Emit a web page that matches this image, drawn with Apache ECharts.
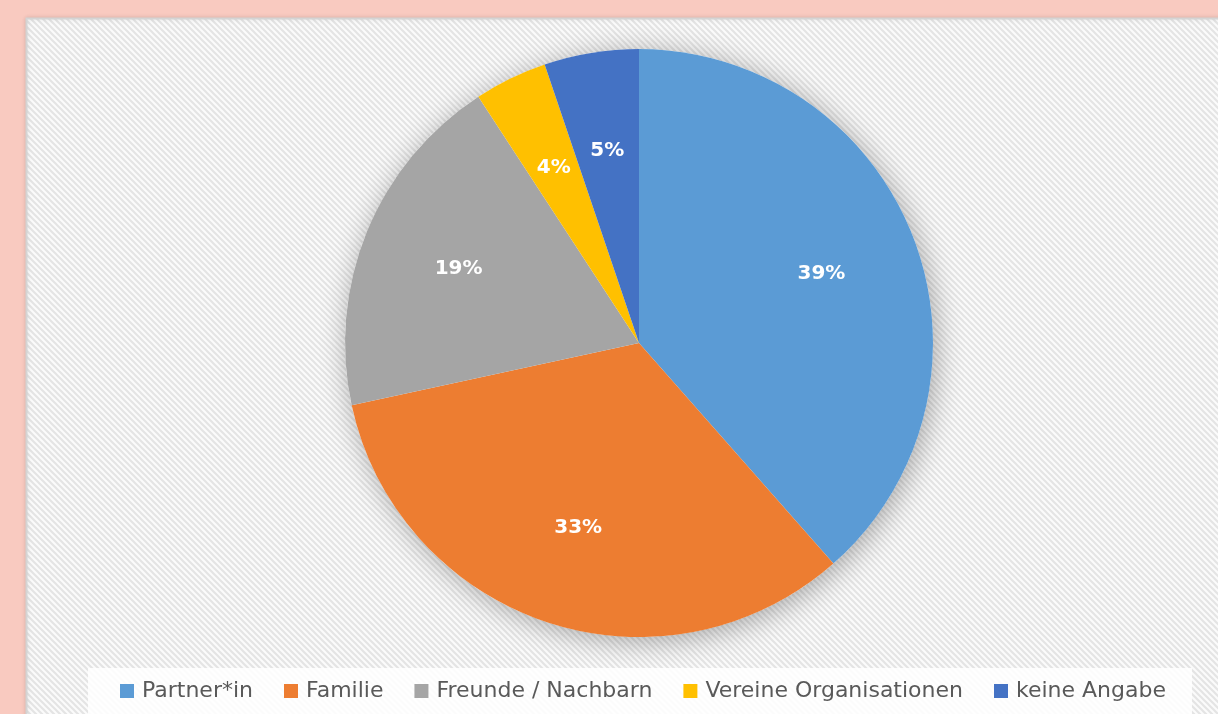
<!DOCTYPE html>
<html>
<head>
<meta charset="utf-8">
<script src="https://cdn.jsdelivr.net/npm/echarts@6/dist/echarts.min.js"></script>
<style>
  html, body { margin: 0; padding: 0; background: #f9cac0; }
  #chart { width: 1218px; height: 714px; }
</style>
</head>
<body>
<div id="chart"></div>
<script>
// Daten
const categories = ['Partner*in', 'Familie', 'Freunde / Nachbarn', 'Vereine Organisationen', 'keine Angabe']
const shares = [38.5, 33.1, 19.2, 4.0, 5.2]
const colors = ['#5b9bd5', '#ed7d31', '#a5a5a5', '#ffc000', '#4472c4']

// diagonal hatch for the chart panel
function makeHatch() {
  const c = document.createElement('canvas')
  c.width = 6
  c.height = 6
  const ctx = c.getContext('2d')
  ctx.fillStyle = '#fbfbfb'
  ctx.fillRect(0, 0, 6, 6)
  ctx.strokeStyle = '#e4e4e4'
  ctx.lineWidth = 2.2
  ctx.beginPath()
  ctx.moveTo(-1, -1); ctx.lineTo(7, 7)
  ctx.moveTo(-4, 2); ctx.lineTo(4, 10)
  ctx.moveTo(2, -4); ctx.lineTo(10, 4)
  ctx.stroke()
  return c
}

const pieData = categories.map((name, i) => ({
  name,
  value: shares[i],
  itemStyle: { color: colors[i] }
}))

const chart = echarts.init(document.getElementById('chart'))

chart.setOption({
  animation: false,
  backgroundColor: '#f9cac0',
  graphic: [
    {
      type: 'rect',
      z: -10,
      shape: { x: 26.5, y: 18.5, width: 1220, height: 720 },
      style: {
        fill: { image: makeHatch(), repeat: 'repeat' },
        stroke: '#d4d4d4',
        lineWidth: 2,
        shadowBlur: 4,
        shadowColor: 'rgba(0,0,0,0.12)'
      }
    }
  ],
  legend: {
    data: categories,
    top: 668,
    left: 88,
    padding: [12, 26, 30, 32],
    backgroundColor: 'rgba(255,255,255,0.85)',
    itemWidth: 14,
    itemHeight: 14,
    itemGap: 31,
    icon: 'rect',
    textStyle: {
      fontFamily: 'DejaVu Sans',
      fontSize: 22,
      color: '#595959',
      padding: [0, 0, 0, 3]
    }
  },
  series: [
    {
      // shadow disc behind the pie
      type: 'pie',
      silent: true,
      center: [639, 343],
      radius: 294,
      z: 1,
      label: { show: false },
      labelLine: { show: false },
      data: [{
        name: '_shadow',
        value: 1,
        itemStyle: {
          color: '#ffffff',
          shadowBlur: 28,
          shadowColor: 'rgba(0,0,0,0.32)',
          shadowOffsetX: 3,
          shadowOffsetY: 4
        }
      }]
    },
    {
      name: 'Anteil',
      type: 'pie',
      center: [639, 343],
      radius: 294,
      startAngle: 90,
      clockwise: true,
      z: 2,
      itemStyle: { borderWidth: 0 },
      label: { show: false },
      labelLine: { show: false },
      data: pieData
    },
    {
      // label layer, larger radius so labels sit further out
      type: 'pie',
      silent: true,
      center: [639, 343],
      radius: 384,
      startAngle: 90,
      clockwise: true,
      z: 3,
      percentPrecision: 0,
      itemStyle: { color: 'rgba(0,0,0,0)', borderWidth: 0 },
      label: {
        show: true,
        position: 'inside',
        formatter: '{d}%',
        color: '#ffffff',
        fontFamily: 'DejaVu Sans',
        fontWeight: 'bold',
        fontSize: 20
      },
      labelLine: { show: false },
      data: categories.map((name, i) => ({ name: name + ' ', value: shares[i] }))
    }
  ]
})
</script>
</body>
</html>
